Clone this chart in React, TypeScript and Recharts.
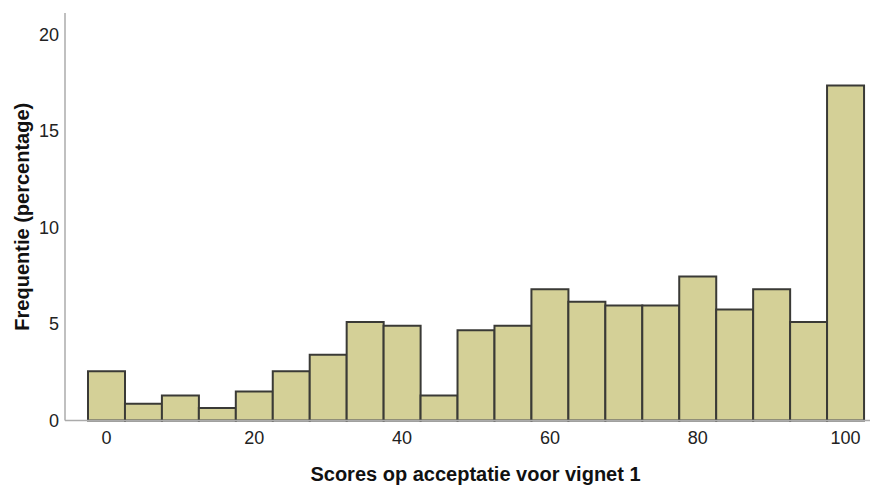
import { BarChart, Bar, XAxis, YAxis } from "recharts";

const bins = [0, 5, 10, 15, 20, 25, 30, 35, 40, 45, 50, 55, 60, 65, 70, 75, 80, 85, 90, 95, 100];
const percentages = [2.55, 0.87, 1.3, 0.65, 1.5, 2.55, 3.4, 5.1, 4.9, 1.3, 4.67, 4.9, 6.8, 6.15, 5.95, 5.95, 7.45, 5.75, 6.8, 5.1, 17.35];
const yTicks = [0, 5, 10, 15, 20];

const data = bins.map((bin, i) => ({ bin, pct: percentages[i] }));

const FONT = "'Liberation Sans', Arial, sans-serif";
const AXIS_GREY = "#ababab";

export default function App() {
  return (
    <div style={{ width: 870, height: 478, fontFamily: FONT }}>
      <BarChart
        width={870}
        height={478}
        data={data}
        barCategoryGap={0}
        barGap={0}
        margin={{ top: 5, right: 0, bottom: 5.5, left: 0 }}
      >
        <XAxis
          dataKey="bin"
          interval={3}
          tickLine={false}
          tickMargin={5}
          height={60}
          padding={{ left: 23, right: 14 }}
          axisLine={{ stroke: AXIS_GREY, strokeWidth: 1.5 }}
          tick={{ fill: "#222", fontSize: 18, fontFamily: FONT }}
          label={{
            value: "Scores op acceptatie voor vignet 1",
            position: "insideBottom",
            offset: 0,
            dx: 4,
            fill: "#111",
            fontSize: 20,
            fontWeight: "bold",
            fontFamily: FONT,
          }}
        />
        <YAxis
          width={57}
          domain={[0, 21.1]}
          ticks={yTicks}
          tickLine={false}
          tickMargin={0}
          axisLine={{ stroke: AXIS_GREY, strokeWidth: 1.5 }}
          tick={{ fill: "#222", fontSize: 18, fontFamily: FONT }}
          label={{
            value: "Frequentie (percentage)",
            angle: -90,
            position: "center",
            dx: -15,
            fill: "#111",
            fontSize: 20,
            fontWeight: "bold",
            fontFamily: FONT,
          }}
        />
        <Bar
          dataKey="pct"
          fill="#d4d097"
          stroke="#3a3a36"
          strokeWidth={2}
          isAnimationActive={false}
        />
      </BarChart>
    </div>
  );
}
